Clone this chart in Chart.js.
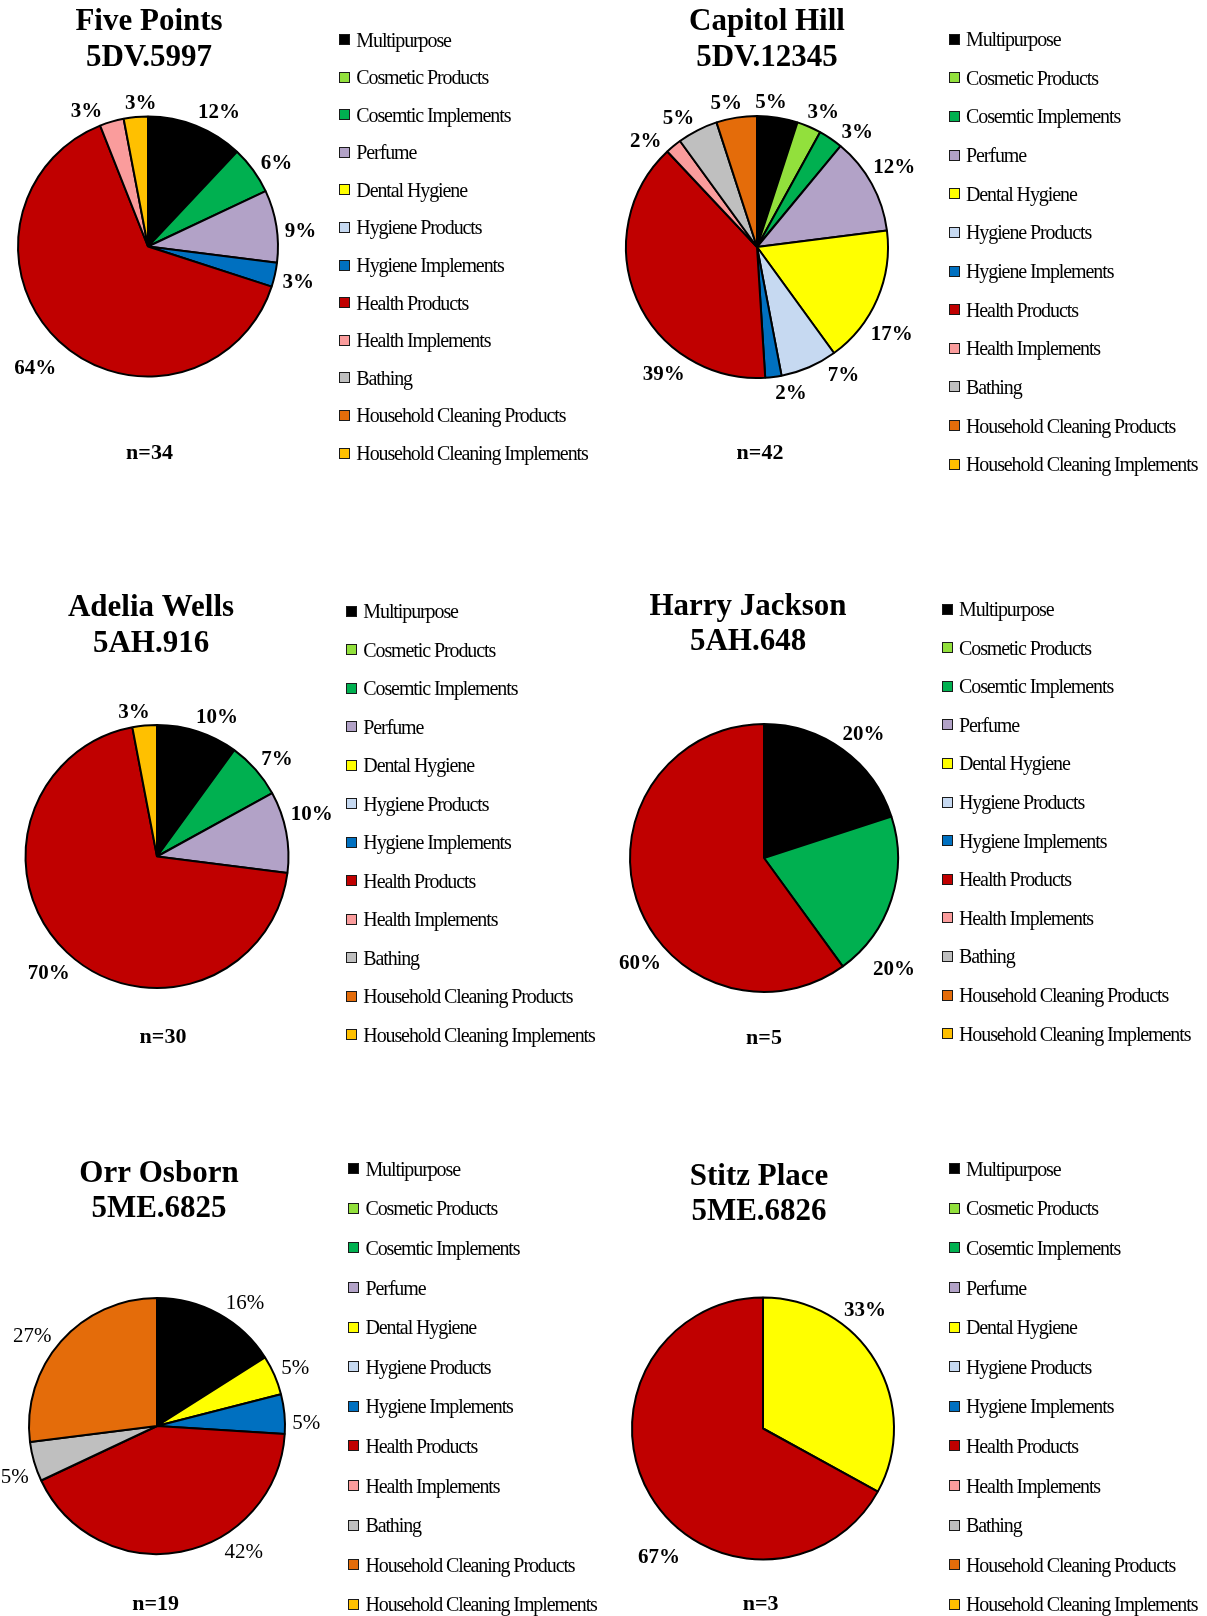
<!DOCTYPE html>
<html>
<head>
<meta charset="utf-8">
<title>Artifact categories by site</title>
<script src="https://cdn.jsdelivr.net/npm/chart.js@4.4.1/dist/chart.umd.min.js"></script>
<style>
  html, body { margin: 0; padding: 0; background: #fff; }
  body { position: relative; width: 1207px; height: 1616px; overflow: hidden; font-family: "Liberation Serif", "Times New Roman", serif; }
  canvas { position: absolute; }
  .legend { position: absolute; margin: 0; padding: 0; list-style: none; }
  .legend li { display: flex; align-items: flex-start; white-space: nowrap; }
  .legend .swatch { width: 9px; height: 9px; border: 1px solid #1a1a1a; margin-top: 4.5px; flex: none; }
  .legend .label { margin-left: 6px; font-size: 20px; line-height: 20px; letter-spacing: -1.1px; color: #000; }
</style>
</head>
<body>
<script>
// categories shared by every site
const categories = [
  'Multipurpose', 'Cosmetic Products', 'Cosemtic Implements', 'Perfume',
  'Dental Hygiene', 'Hygiene Products', 'Hygiene Implements', 'Health Products',
  'Health Implements', 'Bathing', 'Household Cleaning Products', 'Household Cleaning Implements'
];

// percent of assemblage, same order as categories
const fivePoints   = [12, 0, 6, 9, 0, 0, 3, 64, 3, 0, 0, 3];
const capitolHill  = [5, 3, 3, 12, 17, 7, 2, 39, 2, 5, 5, 0];
const adeliaWells  = [10, 0, 7, 10, 0, 0, 0, 70, 0, 0, 0, 3];
const harryJackson = [20, 0, 20, 0, 0, 0, 0, 60, 0, 0, 0, 0];
const orrOsborn    = [16, 0, 0, 0, 5, 0, 5, 42, 0, 5, 27, 0];
const stitzPlace   = [0, 0, 0, 0, 33, 0, 0, 67, 0, 0, 0, 0];

const siteNames = ['Five Points', 'Capitol Hill', 'Adelia Wells', 'Harry Jackson', 'Orr Osborn', 'Stitz Place'];
const siteIds = ['5DV.5997', '5DV.12345', '5AH.916', '5AH.648', '5ME.6825', '5ME.6826'];
const sampleSizes = [34, 42, 30, 5, 19, 3];
const siteValues = [fivePoints, capitolHill, adeliaWells, harryJackson, orrOsborn, stitzPlace];

const sliceColors = [
  '#000000', '#92E03C', '#00B050', '#B2A2C7', '#FFFF00', '#C6D9F1',
  '#0070C0', '#C00000', '#FA9C9C', '#BFBFBF', '#E46C0A', '#FFC000'
];

// page layout of each panel (pixels); nudge = label index -> [degrees, extra distance]
const panels = [
  { box: [0, 0, 600, 470],      pie: [148, 246.5, 131],   title: [149, 22, 58],      n: [149.5, 453.5], legend: [339.3, 39.5, 37.6],  weight: 'bold',
    nudge: {0: [6], 2: [2.5], 3: [2.5], 7: [0, 8], 8: [-8], 11: [2.5]} },
  { box: [603, 0, 604, 470],    pie: [757, 247, 132],     title: [767, 22, 58],      n: [760, 453.5],   legend: [949, 39.2, 38.65],   weight: 'bold',
    nudge: {0: [-3.5], 1: [2.5], 2: [6.5], 3: [-2], 4: [9], 5: [-11], 6: [-6], 7: [-30], 8: [-6.5], 9: [-4], 10: [-3]} },
  { box: [0, 560, 600, 495],    pie: [157, 856.5, 132.5], title: [151, 607.5, 643.5], n: [163, 1037],   legend: [346.3, 611.2, 38.5], weight: 'bold',
    nudge: {0: [5], 2: [2], 3: [-5], 11: [-3.5]} },
  { box: [603, 560, 604, 495],  pie: [764, 858, 135],     title: [748, 606.5, 641.5], n: [764, 1038],   legend: [942, 609.1, 38.6],   weight: 'bold',
    nudge: {0: [2.5], 2: [22, 8], 7: [-22]} },
  { box: [0, 1110, 600, 506],   pie: [157, 1426, 129],    title: [159, 1173.5, 1208.5], n: [155.6, 1604], legend: [348.4, 1168.8, 39.6], weight: 'normal',
    nudge: {0: [6.5], 6: [3.5], 7: [-24], 9: [-3], 10: [-5]} },
  { box: [603, 1110, 604, 506], pie: [763, 1428.5, 132],  title: [759, 1176.5, 1211.5], n: [760.6, 1604], legend: [949, 1168.8, 39.6], weight: 'bold',
    nudge: {4: [-19], 7: [-20, 7]} }
];

const FONT = '"Liberation Serif", "Times New Roman", serif';

// legend as html list, built from the chart's own legend items
const htmlLegend = {
  id: 'htmlLegend',
  afterUpdate(chart, args, opts) {
    const list = document.getElementById(opts.containerID);
    list.innerHTML = '';
    const items = chart.options.plugins.legend.labels.generateLabels(chart);
    items.forEach(item => {
      const li = document.createElement('li');
      li.style.height = opts.rowHeight + 'px';
      const box = document.createElement('span');
      box.className = 'swatch';
      box.style.background = item.fillStyle;
      const label = document.createElement('span');
      label.className = 'label';
      label.textContent = item.text;
      li.append(box, label);
      list.appendChild(li);
    });
  }
};

// percentage labels just outside each slice
const outsideLabels = {
  id: 'outsideLabels',
  afterDatasetsDraw(chart, args, opts) {
    const ctx = chart.ctx;
    const meta = chart.getDatasetMeta(0);
    const values = chart.data.datasets[0].data;
    ctx.save();
    ctx.font = `${opts.weight} ${opts.size}px ${FONT}`;
    ctx.fillStyle = '#000';
    ctx.textAlign = 'center';
    ctx.textBaseline = 'middle';
    meta.data.forEach((arc, i) => {
      const v = values[i];
      if (!v) return;
      const {x, y, startAngle, endAngle, outerRadius} = arc.getProps(['x', 'y', 'startAngle', 'endAngle', 'outerRadius'], true);
      const [turn = 0, extra = 0] = opts.nudge[i] || [];
      const a = (startAngle + endAngle) / 2 + turn * Math.PI / 180;
      const text = v + '%';
      const w = ctx.measureText(text).width;
      const h = opts.size * 0.7;
      const ux = Math.cos(a), uy = Math.sin(a);
      const d = outerRadius + opts.gap + extra + Math.abs(ux) * w / 2 + Math.abs(uy) * h / 2;
      ctx.fillText(text, x + ux * d, y + uy * d + 2);
    });
    ctx.restore();
  }
};

// site title and sample size
const panelText = {
  id: 'panelText',
  afterDraw(chart, args, opts) {
    const ctx = chart.ctx;
    ctx.save();
    ctx.fillStyle = '#000';
    ctx.textAlign = 'center';
    ctx.textBaseline = 'middle';
    opts.items.forEach(t => {
      ctx.font = t.font;
      ctx.fillText(t.text, t.x, t.y);
    });
    ctx.restore();
  }
};

panels.forEach((p, k) => {
  const [bx, by, bw, bh] = p.box;
  const canvas = document.createElement('canvas');
  canvas.width = bw;
  canvas.height = bh;
  canvas.style.left = bx + 'px';
  canvas.style.top = by + 'px';
  canvas.style.width = bw + 'px';
  canvas.style.height = bh + 'px';
  document.body.appendChild(canvas);

  const ul = document.createElement('ul');
  ul.className = 'legend';
  ul.id = 'legend' + k;
  ul.style.left = p.legend[0] + 'px';
  ul.style.top = (p.legend[1] - 10) + 'px';
  document.body.appendChild(ul);

  const cx = p.pie[0] - bx;
  const cy = p.pie[1] - by;

  new Chart(canvas, {
    type: 'pie',
    data: {
      labels: categories,
      datasets: [{
        data: siteValues[k],
        backgroundColor: sliceColors,
        borderColor: '#000',
        borderWidth: 2,
        hoverOffset: 0,
        radius: p.pie[2] - 1
      }]
    },
    options: {
      responsive: false,
      animation: false,
      events: [],
      layout: {
        padding: {
          left: 0,
          right: bw - 2 * cx,
          top: Math.max(0, 2 * cy - bh),
          bottom: Math.max(0, bh - 2 * cy)
        }
      },
      plugins: {
        legend: { display: false },
        tooltip: { enabled: false },
        htmlLegend: { containerID: 'legend' + k, rowHeight: p.legend[2] },
        outsideLabels: { weight: p.weight, size: 21, gap: 7, nudge: p.nudge },
        panelText: {
          items: [
            { text: siteNames[k], x: p.title[0] - bx, y: p.title[1] - by, font: `bold 31px ${FONT}` },
            { text: siteIds[k], x: p.title[0] - bx, y: p.title[2] - by, font: `bold 31px ${FONT}` },
            { text: 'n=' + sampleSizes[k], x: p.n[0] - bx, y: p.n[1] - by, font: `bold 22px ${FONT}` }
          ]
        }
      }
    },
    plugins: [htmlLegend, outsideLabels, panelText]
  });
});
</script>
</body>
</html>
